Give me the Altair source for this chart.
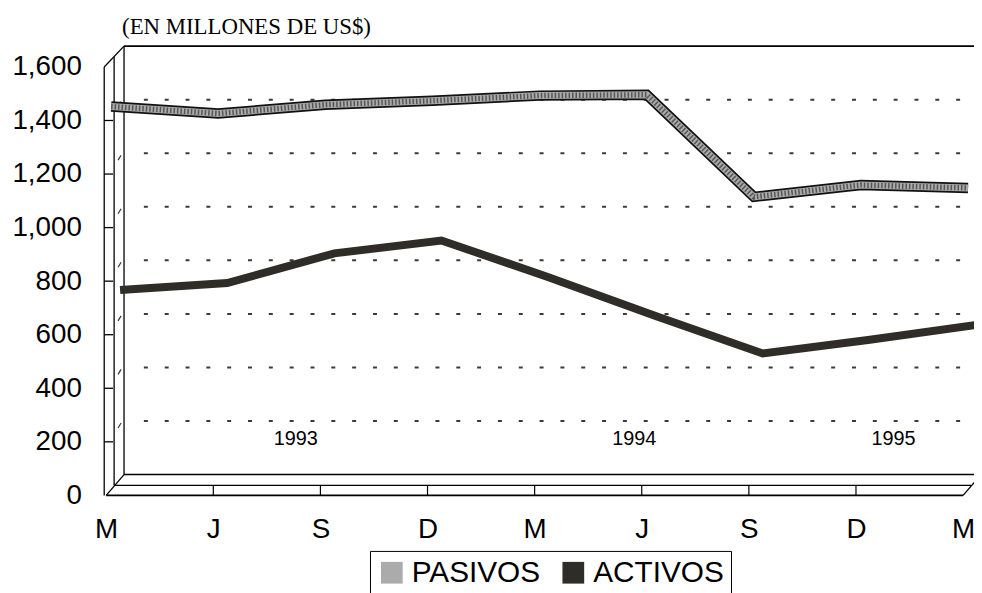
import json
import altair as alt
import pandas as pd

# ---------------- data ----------------
months = ["M", "J", "S", "D", "M", "J", "S", "D", "M"]
quarter_idx = [0, 1, 2, 3, 4, 5, 6, 7, 8]
pasivos = [1452, 1426, 1459, 1474, 1493, 1496, 1115, 1159, 1148]
activos = [767, 793, 904, 952, 815, 670, 530, 581, 637]
series_names = ["PASIVOS", "ACTIVOS"]
series_colors = ["#ababab", "#2e2d27"]
year_labels = ["1993", "1994", "1995"]
year_x = [1.77, 4.93, 7.35]
year_y = [211, 211, 211]
y_ticks = [0, 200, 400, 600, 800, 1000, 1200, 1400, 1600]
grid_values = [200, 400, 600, 800, 1000, 1200, 1400]
title_text = "(EN MILLONES DE US$)"

# ---------------- layout ----------------
W, H = 864, 432
FONT = "Liberation Sans"
DX, DY = 18, -21  # 3D depth offset of the back wall (pixels)

xs = alt.Scale(domain=[0, 8], nice=False, zero=False)
ys = alt.Scale(domain=[0, 1600], nice=False, zero=True)

x_axis = alt.Axis(values=quarter_idx,
                  labelExpr=f"{json.dumps(months)}[datum.value]",
                  labelFont=FONT, labelFontSize=28, labelColor="black",
                  labelPadding=20, ticks=False, tickSize=0, domain=False,
                  grid=False, title=None, labelFlush=False, labelOverlap=False)
y_axis = alt.Axis(values=y_ticks,
                  labelExpr="format(datum.value, ',.0f')",
                  labelFont=FONT, labelFontSize=28, labelColor="black",
                  labelPadding=25, ticks=False, tickSize=0, domain=False,
                  grid=False, title=None, labelFlush=False, labelOverlap=False)


def X(f):
    return alt.X(f, scale=xs, axis=x_axis)


def Y(f):
    return alt.Y(f, scale=ys, axis=y_axis)


def seg(x0, x1, y0, y1, **mk):
    d = pd.DataFrame({"a": [x0], "b": [x1], "c": [y0], "d": [y1]})
    props = dict(color="black", strokeWidth=1.3)
    props.update(mk)
    return alt.Chart(d).mark_rule(**props).encode(
        x=X("a:Q"), x2="b:Q", y=Y("c:Q"), y2="d:Q")


layers = []

# back-wall dotted gridlines
df_grid = pd.DataFrame({"v": grid_values, "t0": [0] * len(grid_values),
                        "t1": [8] * len(grid_values)})
layers.append(alt.Chart(df_grid).mark_rule(
    xOffset=38, x2Offset=DX, yOffset=DY, strokeDash=[4, 17], strokeWidth=2,
    color="#3a3a3a").encode(x=X("t0:Q"), x2="t1:Q", y=Y("v:Q")))

# small diagonal marks on the left wall
layers.append(alt.Chart(df_grid).mark_rule(
    xOffset=12, x2Offset=15, yOffset=-14, y2Offset=-19, strokeWidth=1.2,
    color="#333").encode(x=X("t0:Q"), x2="t0:Q", y=Y("v:Q"), y2="v:Q"))

# front-wall ticks
layers.append(alt.Chart(df_grid).mark_rule(
    xOffset=-2, x2Offset=7, strokeWidth=1.3, color="black").encode(
    x=X("t0:Q"), x2="t0:Q", y=Y("v:Q")))

# frame (3D box)
layers += [
    seg(0, 8, 1600, 1600, xOffset=DX, x2Offset=DX, yOffset=DY, y2Offset=DY, strokeWidth=1.6),
    seg(0, 0, 0, 1600, xOffset=DX, x2Offset=DX, yOffset=DY, y2Offset=DY),
    seg(0, 0, 0, 1600, xOffset=-2, x2Offset=-2),
    seg(0, 0, 0, 1600, xOffset=8, x2Offset=8, yOffset=-10, y2Offset=-10),
    seg(0, 0, 1600, 1600, xOffset=-2, x2Offset=DX, yOffset=0, y2Offset=DY),
    seg(0, 8, 0, 0, strokeWidth=1.6),
    seg(0, 8, 0, 0, xOffset=8, x2Offset=8, yOffset=-10, y2Offset=-10),
    seg(0, 8, 0, 0, xOffset=DX, x2Offset=DX, yOffset=DY, y2Offset=DY, strokeWidth=1.6),
    seg(0, 0, 0, 0, xOffset=0, x2Offset=DX, yOffset=0, y2Offset=DY),
    seg(8, 8, 0, 0, xOffset=0, x2Offset=DX, yOffset=0, y2Offset=DY),
]

# floor ticks
df_ft = pd.DataFrame({"t": quarter_idx[1:-1], "z": [0] * 7})
layers.append(alt.Chart(df_ft).mark_rule(
    yOffset=0, y2Offset=-10, strokeWidth=1.2, color="black").encode(
    x=X("t:Q"), y=Y("z:Q"), y2="z:Q"))

# data ribbons
df_p = pd.DataFrame({"t": quarter_idx, "v": pasivos})
df_a = pd.DataFrame({"t": quarter_idx, "v": activos})
layers.append(alt.Chart(df_p).mark_line(
    color="#111111", strokeWidth=10.5, xOffset=5).encode(x=X("t:Q"), y=Y("v:Q")))
layers.append(alt.Chart(df_p).mark_line(
    color=series_colors[0], strokeWidth=7, xOffset=5).encode(x=X("t:Q"), y=Y("v:Q")))
layers.append(alt.Chart(df_p).mark_line(
    color="#555555", strokeWidth=5.5, strokeDash=[1.5, 2], xOffset=5).encode(
    x=X("t:Q"), y=Y("v:Q")))
layers.append(alt.Chart(df_a).mark_line(
    color=series_colors[1], strokeWidth=8, xOffset=14).encode(x=X("t:Q"), y=Y("v:Q")))

# year labels
df_years = pd.DataFrame({"label": year_labels, "x": year_x, "y": year_y})
layers.append(alt.Chart(df_years).mark_text(
    font=FONT, fontSize=20, color="black", align="center", baseline="middle").encode(
    x=X("x:Q"), y=Y("y:Q"), text="label:N"))

# title
df_title = pd.DataFrame({"txt": [title_text]})
layers.append(alt.Chart(df_title).mark_text(
    font="Liberation Serif", fontSize=23, color="black", align="left",
    baseline="alphabetic").encode(x=alt.value(16), y=alt.value(-33), text="txt:N"))

# legend carrier
df_leg = pd.DataFrame({"series": series_names, "t": [0, 0], "v": [0, 0]})
layers.append(alt.Chart(df_leg).mark_square(opacity=0, size=1).encode(
    x=X("t:Q"), y=Y("v:Q"),
    fill=alt.Fill("series:N",
                  scale=alt.Scale(domain=series_names, range=series_colors),
                  legend=alt.Legend(orient="none", legendX=266, legendY=488,
                                    direction="horizontal", title=None,
                                    symbolType="square", symbolSize=480,
                                    symbolOpacity=1, symbolStrokeWidth=0,
                                    labelFont=FONT, labelFontSize=30,
                                    labelColor="black", labelOffset=5,
                                    columnPadding=18, padding=7,
                                    strokeColor="black", fillColor="white"))))

chart = alt.layer(*layers).properties(
    width=W, height=H,
    autosize=alt.AutoSizeParams(type="none"),
    padding={"left": 99, "top": 57, "right": 11, "bottom": 96},
    background="white",
).configure_view(stroke=None)

chart.save("out.html", embed_options={"renderer": "svg", "actions": False})
